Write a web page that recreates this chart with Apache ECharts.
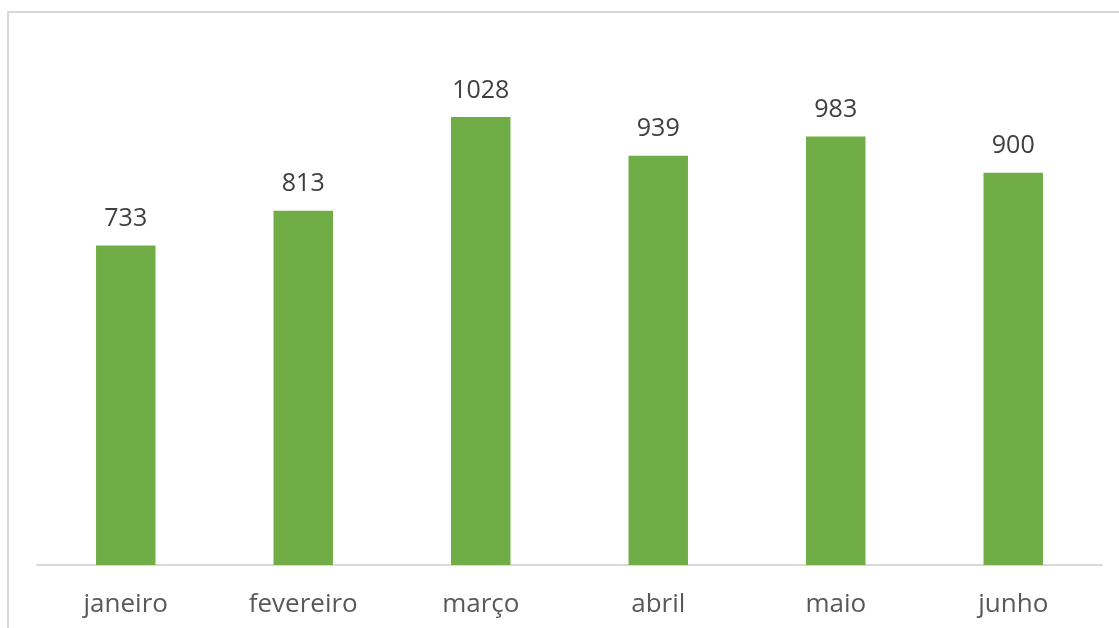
<!DOCTYPE html>
<html>
<head>
<meta charset="utf-8">
<script src="https://cdn.jsdelivr.net/npm/echarts@6/dist/echarts.min.js"></script>
<style>
  html, body { margin: 0; padding: 0; background: #fff; }
  #chart { width: 1119px; height: 628px; }
</style>
</head>
<body>
<div id="chart"></div>
<script>
const months = ["janeiro", "fevereiro", "março", "abril", "maio", "junho"];
const values = [733, 813, 1028, 939, 983, 900];

const chart = echarts.init(document.getElementById("chart"));

chart.setOption({
  animation: false,
  textStyle: { fontFamily: "Open Sans" },
  graphic: [
    {
      type: "rect",
      shape: { x: 8, y: 12, width: 1200, height: 700 },
      style: { fill: "none", stroke: "#d9d9d9", lineWidth: 2 },
      silent: true,
    },
  ],
  grid: { left: 37, right: 17, top: 42, bottom: 63, containLabel: false },
  xAxis: {
    type: "category",
    data: months,
    axisLine: { lineStyle: { color: "#d9d9d9", width: 2 } },
    axisTick: { show: false },
    axisLabel: { color: "#595959", fontSize: 26, margin: 27 },
  },
  yAxis: {
    type: "value",
    min: 0,
    max: 1200,
    show: false,
    splitLine: { show: false },
  },
  series: [
    {
      type: "bar",
      data: values,
      barWidth: "33.5%",
      itemStyle: { color: "#70ad47" },
      label: {
        show: true,
        position: "top",
        distance: 14,
        color: "#404040",
        fontSize: 25,
      },
    },
  ],
});
</script>
</body>
</html>
